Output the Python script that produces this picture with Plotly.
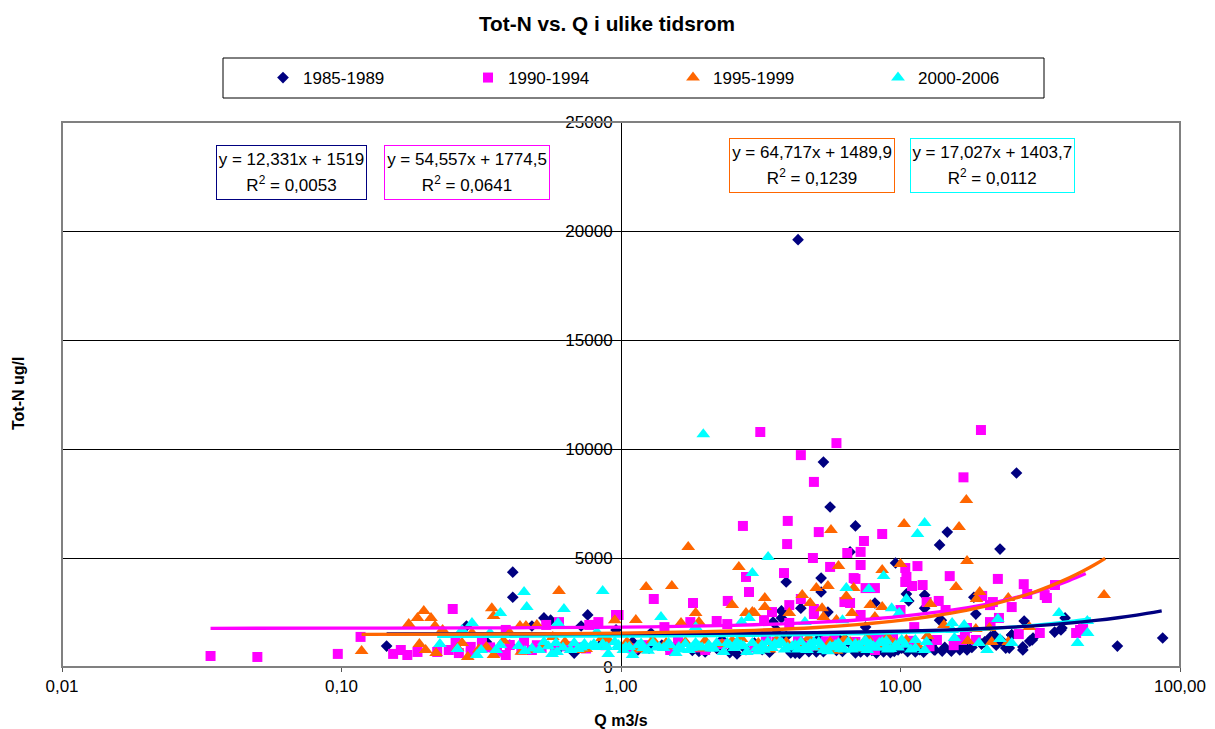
import plotly.graph_objects as go

title_text = "Tot-N vs. Q i ulike tidsrom"
x_title = "Q m3/s"
y_title = "Tot-N ug/l"
series_names = ["1985-1989", "1990-1994", "1995-1999", "2000-2006"]
x_tick_vals = [0.01, 0.1, 1, 10, 100]
x_tick_text = ["0,01", "0,10", "1,00", "10,00", "100,00"]
y_tick_vals = [0, 5000, 10000, 15000, 20000, 25000]

q_1985 = [4.3,5.3,5.6,6.9,6.6,13.8,14.7,26,22.7,9.6,5.2,0.41,0.41,3.9,5.2,8.1,10.5,10.7,12.2,12.2,18.3,18.6,13.8,27.7,38.8,37.8,35.6,29.8,29,27.4,27.4,25,59.7,86.7,23.8,21,
          2.0,2.6,4.2,5.0,7.2,8.7,9.8,11.3,13.3,15.2,16.3,17.3,4.4,3.75,3.5,7.5,5.5,3.75,
          0.145,0.48,0.53,0.56,0.76,0.72,0.96,0.28,0.68,0.33,1.26,1.28,10.1,13.2,15.1,14,37.5,29.6,24.5,21.6,25,
          1.1,1.6,2.3,3.0,4.5,6.0,7.8,9.2,11.0,12.5,16,19.5,23,0.4,0.6,0.85,3.2,4.8,6.4,8.4,
          3.6,3.9,4.1,4.7,5.1,5.9,6.7,7.1,7.9,8.9,9.5,10.3,11.7,12.9,14.4,16.8,18,20,22,2.8,2.2,1.8,1.4,
          1.15,1.5,1.9,2.45,3.4,4.05,4.35,5.3,6.2,6.9,7.6,8.2,9.2,10.6,12.1,14.1]
n_1985 = [19600,9400,7340,6470,5280,5600,6190,8900,5410,4770,4080,4350,3200,3900,3440,2935,3350,3030,3300,2700,3200,2430,2150,2110,2250,1790,1600,1330,1190,920,780,1470,960,1330,870,1380,
          690,600,640,690,690,690,780,690,780,730,780,780,2700,2570,2060,1830,2520,2250,
          960,1880,2250,2150,2390,1880,1700,1880,640,1150,870,1560,870,780,780,2150,1700,1240,870,1470,1470,
          1150,980,1250,1100,1050,1300,1150,1250,1000,1350,1100,1050,1200,1000,850,1050,800,900,1200,900,
          1700,1400,800,700,1300,760,1000,820,760,820,720,1100,800,1000,900,1000,900,1150,1000,800,850,760,1000,
          780,760,720,660,680,650,620,700,710,650,700,640,660,700,680,730]

q_1990 = [3.15,5.9,4.4,19.4,4.9,16.8,2.73,3.95,5.1,3.93,8.6,7.4,7.2,6.45,4.86,5.6,7.2,3.83,11.5,10.4,10.5,6.8,15,22.3,2.8,
          2.87,1.31,1.81,2.41,6.9,10.4,11,12,7.5,8.1,6.3,6.6,12.4,13.7,27.6,28.4,32.8,33.4,35.7,25,21.4,20.9,4.4,4.0,4.9,4.9,3.47,3.25,2.2,2.4,1.77,1.43,4.0,7.2,14.5,10,22.5,20.9,
          26.5,31.5,43.9,42.5,45,13.5,16.6,17.3,8,9.4,11.2,8.4,0.98,19.6,21,18.6,
          0.25,0.117,0.034,0.05,0.097,0.153,0.163,0.172,0.187,0.22,0.242,0.263,0.29,0.318,0.29,0.387,0.40,0.48,0.54,0.6,0.77,0.83,0.96,0.67,0.387,0.318,0.256,0.52,8.1,2,
          1.2,1.6,2.6,3.3,5.4,6.1,7.9,9.2,12.7,0.45,0.7,
          0.34,0.36,0.44,0.5,0.58,0.64,0.75,0.88,1.1,1.5,1.9,2.3,3,3.6,4.3,4.7,5.8,6.9,8.9,9.9,10.8,15.5,17]
n_1990 = [10780,10270,9720,10870,8490,8700,6470,6700,6190,5640,6100,5780,5280,5230,5000,4590,4680,4310,4630,4540,4130,4080,4170,4040,4130,
          3440,3120,2935,3030,4040,3900,3715,3760,3620,3620,2980,2935,2980,3030,3800,3350,3300,3165,3760,2750,2980,2840,3120,2840,2660,2430,2520,2150,2110,1970,2060,1830,2020,2385,2615,2615,2250,2060,
          1510,1560,1700,1560,1740,1240,1240,1790,870,1330,1830,1380,2385,3260,2020,1240,
          2660,1380,505,460,600,600,780,550,690,690,780,640,920,1010,640,550,1010,780,1930,2060,1930,2060,2385,870,1700,1150,1150,870,780,780,
          1000,1250,1100,1400,1180,1000,1300,1100,950,1200,900,
          900,700,800,1000,820,950,850,1000,850,780,900,1050,900,1150,1250,950,1350,1150,1450,1050,1200,1000,1400]

q_1995 = [1.74,5.64,10.3,16.2,17.2,2.64,6,10,17.3,8.6,
          1.23,1.52,2.5,3.27,3.27,2.8,2.95,3.0,1.85,1.9,1.64,1.13,4.45,5,5.5,4.75,5.24,4,6.7,6.8,6.4,7.8,8.6,5.3,5.9,8.1,
          15.8,19.2,18.7,12.8,24.3,53.5,14.3,18.6,20.8,28.9,17.4,21.2,24.3,
          0.118,0.174,0.187,0.197,0.209,0.216,0.227,0.19,0.2,0.218,0.26,0.283,0.33,0.35,0.345,0.35,0.435,0.457,0.5,0.6,0.48,0.95,0.71,0.4,0.855,0.293,0.23,0.57,
          1.05,1.3,1.5,1.7,2,2.3,2.7,3.1,3.6,4.2,4.7,5.2,5.6,6.3,7,7.6,8.3,9,9.5,10.5,11.5,12.5,
          0.27,0.31,0.38,0.44,0.53,0.63,0.75,0.9,1.15,1.45,1.95,2.5,3.4,3.9,4.5,5.9,6.6,7.3]
n_1995 = [5500,6280,6560,6420,7660,4590,4630,4720,4860,4450,
          3670,3715,2840,3165,2750,2480,2520,2480,2480,2060,2020,2156,3300,3620,3715,2935,2700,2480,2480,3620,3250,2840,2750,2290,2156,2290,
          3670,3440,3120,2890,3165,3300,1930,1740,1790,1830,1190,1150,1150,
          730,1970,2250,2570,2250,1880,1600,1055,780,640,870,460,920,550,2700,2340,1880,1880,1930,3490,780,2150,780,1560,1330,1560,1700,1380,
          1150,1240,950,1150,1200,1050,1290,1100,1240,1000,1340,900,1150,1290,1050,1340,1000,1380,1100,1240,1000,1420,
          1100,800,1200,700,1000,1150,820,1250,800,1100,850,1200,800,1150,950,750,1150,850]

q_2000 = [1.97,12.2,11.5,3.36,2.95,8.7,
          0.45,0.46,0.37,0.293,0.86,0.625,0.595,0.225,0.26,0.305,0.316,0.357,0.37,0.43,0.453,0.51,0.567,0.59,0.53,0.585,0.68,0.74,0.8,0.82,0.89,0.9,0.98,1.04,0.34,0.27,0.82,
          1.39,1.1,1.07,0.98,1.2,1.37,1.42,1.57,1.61,1.78,1.85,2.06,2.33,2.54,2.82,2.69,3.2,3.47,3.77,4.2,4.63,5.3,5.85,6.9,7.8,8.9,8.9,10.1,6.4,7.7,10.5,9.3,6.2,4.55,2.87,2.7,1.85,
          15.3,16.9,22.3,36.9,46.7,43,22.7,25,20.4,19.1,12.4,12.2,11.3,11.3,15.6,10.1,15.3,46.6,9.9,
          0.62,0.7,0.78,0.95,1.15,1.3,1.5,1.7,1.95,2.2,2.45,2.95,3.05,3.35,3.6,3.95,4.4,4.85,5.1,5.6,6.1,6.5,7.2,7.5,8.2,8.6,9.6,
          1.25,1.65,2.15,2.6,3.1,3.7,4.3,4.9,5.5,6.7,7.4,9.2,
          0.48,0.55,0.66,0.72,0.86,1.02,1.18,1.34,1.48,1.75,1.9,2.1,2.4,2.75,3.25,3.55,3.85,4.1,4.5,4.75,5.2,5.7,6,6.3,6.8,7.1,7.6,8,8.4,9,9.8,10.4,10.9]
n_2000 = [10680,6600,6100,5050,4310,4170,
          3440,2750,2480,2020,3490,2660,2020,1055,825,550,780,780,1010,960,730,780,600,690,1150,1100,1100,1055,1055,920,920,600,1010,920,1560,1700,1600,
          2290,550,920,920,870,920,870,640,920,870,1100,1010,690,870,690,1010,1010,870,1100,1010,780,780,1010,1055,1055,1190,920,1190,3620,3575,3120,2700,2150,2060,2250,2060,1830,
          2020,1930,2200,2480,1560,1100,1285,1100,780,1100,1150,780,870,1240,1330,1240,1700,2110,2480,
          900,820,960,1150,1000,1100,1000,1050,900,1100,1000,1100,850,1150,1000,900,1150,900,1150,950,820,1150,850,1200,880,1150,1000,
          750,800,850,1150,720,1150,800,1150,720,800,1150,820,
          850,950,780,900,1050,780,1080,900,1100,780,950,850,1100,950,790,1050,800,950,830,1050,1000,900,1100,800,900,1000,780,950,1100,800,900,1020,800]

trend_q_1985 = [0.145,1,2,3,5,7,10,15,20,30,40,50,60,70,86]
trend_n_1985 = [1521,1531,1544,1556,1581,1605,1642,1704,1766,1889,2012,2136,2259,2382,2579]
trend_q_1990 = [0.034,0.1,0.3,0.5,1,2,3,5,7,10,15,20,25,30,35,40,46]
trend_n_1990 = [1776,1780,1791,1802,1829,1884,1938,2047,2156,2320,2593,2866,3138,3411,3684,3957,4284]
trend_q_1995 = [0.118,0.3,0.5,1,2,3,5,7,10,15,20,25,30,35,40,45,50,54]
trend_n_1995 = [1498,1509,1522,1555,1619,1684,1813,1943,2137,2461,2784,3108,3431,3755,4079,4402,4726,4985]
trend_q_2000 = [0.22,0.5,1,3,5,10,20,30,40,48]
trend_n_2000 = [1407,1412,1421,1455,1489,1574,1744,1914,2085,2221]

eq_line1 = ["y = 12,331x + 1519", "y = 54,557x + 1774,5", "y = 64,717x + 1489,9", "y = 17,027x + 1403,7"]
eq_line2 = ["R<sup>2</sup> = 0,0053", "R<sup>2</sup> = 0,0641", "R<sup>2</sup> = 0,1239", "R<sup>2</sup> = 0,0112"]

NAVY, PINK, ORANGE, CYAN = "#000080", "#FF00FF", "#FF6600", "#00FFFF"
FONT = "Liberation Sans, Arial, sans-serif"
PL, PR, PT, PB = 62, 1180, 122, 667

def fx(px):
    return (px - PL) / (PR - PL)

def fy(py):
    return (PB - py) / (PB - PT)

fig = go.Figure()
for name, q, n, col, sym, size in [
    (series_names[0], q_1985, n_1985, NAVY, "diamond", 9),
    (series_names[1], q_1990, n_1990, PINK, "square", 10),
    (series_names[2], q_1995, n_1995, ORANGE, "triangle-up", 12),
    (series_names[3], q_2000, n_2000, CYAN, "triangle-up", 12),
]:
    fig.add_trace(go.Scatter(x=q, y=n, mode="markers", name=name,
                             marker=dict(color=col, symbol=sym, size=size, line=dict(width=0))))

for q, n, col in [
    (trend_q_2000, trend_n_2000, CYAN),
    (trend_q_1985, trend_n_1985, NAVY),
    (trend_q_1990, trend_n_1990, PINK),
    (trend_q_1995, trend_n_1995, ORANGE),
]:
    fig.add_trace(go.Scatter(x=q, y=n, mode="lines", showlegend=False, hoverinfo="skip",
                             line=dict(color=col, width=3.3, shape="spline")))

boxes = [(216, 367, 145, 199, NAVY), (384, 550, 145, 199, PINK),
         (729, 895, 138, 192, ORANGE), (909.5, 1074, 138, 192, CYAN)]
anns = []
for l1, l2, (x0, x1, y0, y1, col) in zip(eq_line1, eq_line2, boxes):
    label = '<span style="font-size:17px">%s</span><br><span style="font-size:17px">%s</span>' % (l1, l2)
    anns.append(dict(xref="paper", yref="paper", x=fx(x0), y=fy(y0), xanchor="left", yanchor="top",
                     text=label, showarrow=False, align="center", valign="middle",
                     width=x1 - x0 - 2, height=y1 - y0 - 1, borderpad=0, borderwidth=1,
                     bordercolor=col, bgcolor="white", font=dict(size=20, color="black", family=FONT)))
anns.append(dict(xref="paper", yref="paper", x=fx(18), y=fy(394), xanchor="center", yanchor="middle",
                 text="<b>%s</b>" % y_title, textangle=-90, showarrow=False,
                 font=dict(size=16, color="black", family=FONT)))

fig.update_layout(
    width=1215, height=729, paper_bgcolor="white", plot_bgcolor="white",
    margin=dict(l=PL, r=1215 - PR, t=PT, b=729 - PB, autoexpand=False),
    font=dict(family=FONT, size=17, color="black"),
    title=dict(text="<b>%s</b>" % title_text, x=607 / 1215, xanchor="center", xref="container",
               y=1 - 24 / 729, yanchor="middle", yref="container", font=dict(size=20.8, family=FONT)),
    xaxis=dict(type="log", range=[-2, 2], tickmode="array", tickvals=x_tick_vals, ticktext=x_tick_text,
               ticks="outside", ticklen=4, tickcolor="#555555", showgrid=False, zeroline=False,
               showline=False, tickfont=dict(size=17),
               title=dict(text="<b>%s</b>" % x_title, font=dict(size=16), standoff=20)),
    yaxis=dict(range=[0, 25000], tickmode="array", tickvals=y_tick_vals, anchor="free", position=0.5,
               showline=True, linecolor="black", linewidth=1, ticks="outside", ticklen=5, tickcolor="black",
               showgrid=True, gridcolor="black", gridwidth=1, zeroline=False, tickformat="d",
               tickfont=dict(size=17)),
    legend=dict(orientation="h", x=fx(263), y=fy(78), xanchor="left", yanchor="middle",
                entrywidth=160, entrywidthmode="pixels", font=dict(size=17), bgcolor="rgba(0,0,0,0)",
                itemclick=False, itemdoubleclick=False),
    annotations=anns,
    shapes=[
        dict(type="rect", xref="paper", yref="paper", x0=0, x1=1, y0=0, y1=1,
             line=dict(color="#808080", width=2), layer="above"),
        dict(type="rect", xref="paper", yref="paper", x0=fx(223), x1=fx(1044), y0=fy(58), y1=fy(98),
             line=dict(color="black", width=1), fillcolor="white", layer="below"),
    ],
)
fig.write_html("out.html", config=dict(displayModeBar=False), post_script="document.body.style.margin='0';")
